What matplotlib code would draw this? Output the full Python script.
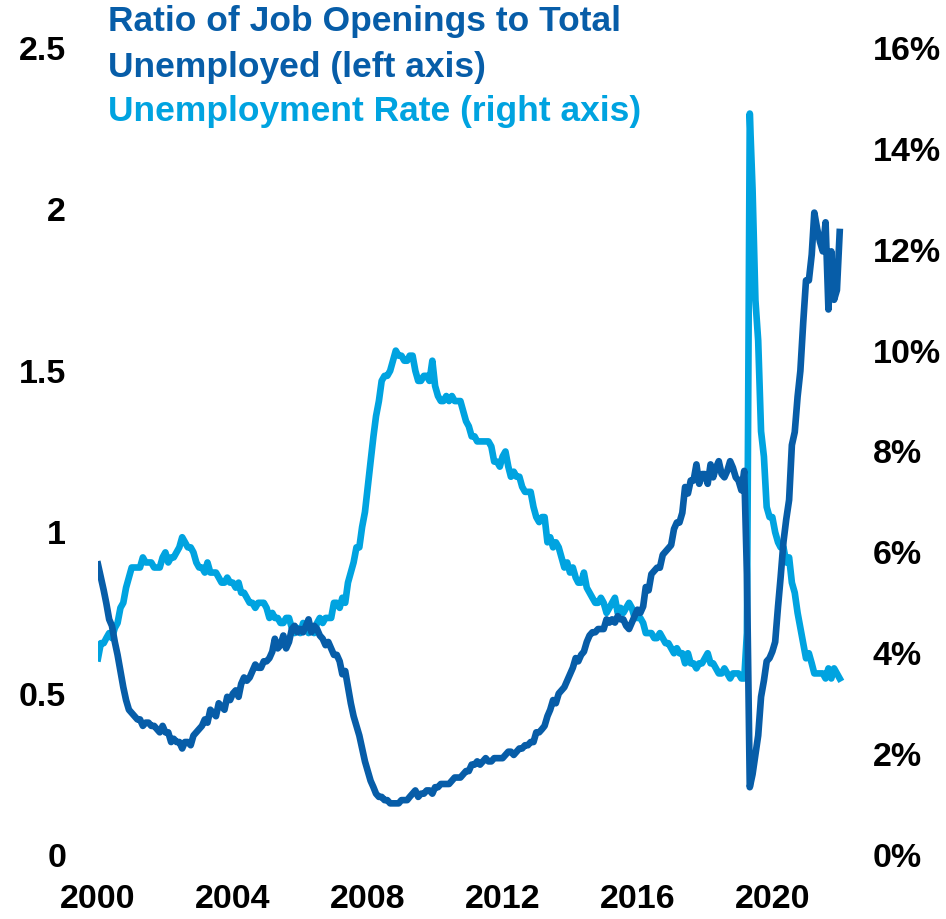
import matplotlib
matplotlib.use("Agg")
import matplotlib.pyplot as plt
from matplotlib.ticker import FuncFormatter
import pandas as pd

# monthly, Dec 2000 .. Dec 2022
start_month = "2000-12-01"

# unemployment rate, %
unemployment_rate = [
    3.9,
    4.2, 4.2, 4.3, 4.4, 4.3, 4.5, 4.6, 4.9, 5.0, 5.3, 5.5, 5.7,
    5.7, 5.7, 5.7, 5.9, 5.8, 5.8, 5.8, 5.7, 5.7, 5.7, 5.9, 6.0,
    5.8, 5.9, 5.9, 6.0, 6.1, 6.3, 6.2, 6.1, 6.1, 6.0, 5.8, 5.7,
    5.7, 5.6, 5.8, 5.6, 5.6, 5.6, 5.5, 5.4, 5.4, 5.5, 5.4, 5.4,
    5.3, 5.4, 5.2, 5.2, 5.1, 5.0, 5.0, 4.9, 5.0, 5.0, 5.0, 4.9,
    4.7, 4.8, 4.7, 4.7, 4.6, 4.6, 4.7, 4.7, 4.5, 4.4, 4.5, 4.4,
    4.6, 4.5, 4.4, 4.5, 4.4, 4.6, 4.7, 4.6, 4.7, 4.7, 4.7, 5.0,
    5.0, 4.9, 5.1, 5.0, 5.4, 5.6, 5.8, 6.1, 6.1, 6.5, 6.8, 7.3,
    7.8, 8.3, 8.7, 9.0, 9.4, 9.5, 9.5, 9.6, 9.8, 10.0, 9.9, 9.9,
    9.8, 9.8, 9.9, 9.9, 9.6, 9.4, 9.4, 9.5, 9.5, 9.4, 9.8, 9.3,
    9.1, 9.0, 9.0, 9.1, 9.0, 9.1, 9.0, 9.0, 9.0, 8.8, 8.6, 8.5,
    8.3, 8.3, 8.2, 8.2, 8.2, 8.2, 8.2, 8.1, 7.8, 7.8, 7.7, 7.9,
    8.0, 7.7, 7.5, 7.6, 7.5, 7.5, 7.3, 7.2, 7.2, 7.2, 6.9, 6.7,
    6.6, 6.7, 6.7, 6.2, 6.3, 6.1, 6.2, 6.1, 5.9, 5.7, 5.8, 5.6,
    5.7, 5.5, 5.4, 5.4, 5.6, 5.3, 5.2, 5.1, 5.0, 5.0, 5.1, 5.0,
    4.8, 4.9, 5.0, 5.1, 4.8, 4.9, 4.8, 4.9, 5.0, 4.9, 4.7, 4.7,
    4.7, 4.6, 4.4, 4.4, 4.4, 4.3, 4.3, 4.4, 4.3, 4.2, 4.2, 4.1,
    4.0, 4.1, 4.0, 4.0, 3.8, 4.0, 3.8, 3.8, 3.7, 3.8, 3.8, 3.9,
    4.0, 3.8, 3.8, 3.7, 3.6, 3.6, 3.7, 3.6, 3.5, 3.6, 3.6, 3.6,
    3.5, 3.5, 4.4, 14.7, 13.2, 11.0, 10.2, 8.4, 7.9, 6.9, 6.7, 6.7,
    6.4, 6.2, 6.1, 6.1, 5.8, 5.9, 5.4, 5.2, 4.8, 4.5, 4.2, 3.9,
    4.0, 3.8, 3.6, 3.6, 3.6, 3.6, 3.5, 3.7, 3.5, 3.7, 3.6, 3.5,
]

# job openings / unemployed
openings_ratio = [
    0.90,
    0.86, 0.82, 0.78, 0.73, 0.71, 0.66, 0.62, 0.57, 0.52, 0.48, 0.45, 0.44,
    0.43, 0.42, 0.42, 0.40, 0.41, 0.41, 0.40, 0.40, 0.39, 0.38, 0.40, 0.38,
    0.38, 0.35, 0.36, 0.35, 0.35, 0.33, 0.35, 0.35, 0.34, 0.37, 0.38, 0.39,
    0.40, 0.42, 0.41, 0.45, 0.44, 0.43, 0.47, 0.46, 0.45, 0.49, 0.48, 0.50,
    0.51, 0.49, 0.53, 0.55, 0.54, 0.55, 0.57, 0.59, 0.58, 0.58, 0.60, 0.60,
    0.61, 0.63, 0.67, 0.64, 0.65, 0.68, 0.64, 0.66, 0.70, 0.71, 0.69, 0.70,
    0.69, 0.71, 0.73, 0.69, 0.71, 0.70, 0.68, 0.67, 0.65, 0.66, 0.64, 0.62,
    0.62, 0.60, 0.56, 0.57, 0.52, 0.47, 0.43, 0.40, 0.37, 0.33, 0.29, 0.26,
    0.23, 0.21, 0.19, 0.18, 0.18, 0.17, 0.17, 0.16, 0.16, 0.16, 0.16, 0.17,
    0.17, 0.17, 0.18, 0.19, 0.20, 0.18, 0.19, 0.19, 0.20, 0.20, 0.19, 0.21,
    0.21, 0.22, 0.22, 0.22, 0.22, 0.23, 0.24, 0.24, 0.24, 0.25, 0.26, 0.26,
    0.28, 0.28, 0.29, 0.28, 0.29, 0.30, 0.29, 0.29, 0.30, 0.30, 0.30, 0.30,
    0.31, 0.32, 0.32, 0.31, 0.32, 0.33, 0.33, 0.34, 0.34, 0.35, 0.35, 0.38,
    0.38, 0.39, 0.40, 0.43, 0.45, 0.48, 0.47, 0.50, 0.51, 0.52, 0.54, 0.56,
    0.58, 0.61, 0.60, 0.62, 0.63, 0.66, 0.68, 0.69, 0.69, 0.70, 0.70, 0.70,
    0.73, 0.72, 0.73, 0.72, 0.74, 0.73, 0.73, 0.71, 0.70, 0.72, 0.74, 0.76,
    0.75, 0.77, 0.83, 0.82, 0.87, 0.88, 0.89, 0.89, 0.93, 0.94, 0.95, 0.96,
    1.01, 1.03, 1.03, 1.06, 1.14, 1.12, 1.16, 1.16, 1.21, 1.15, 1.18, 1.18,
    1.15, 1.21, 1.17, 1.20, 1.22, 1.18, 1.17, 1.19, 1.22, 1.20, 1.17, 1.16,
    1.13, 1.19, 0.87, 0.21, 0.25, 0.31, 0.37, 0.49, 0.54, 0.60, 0.61, 0.63,
    0.66, 0.77, 0.86, 0.97, 1.04, 1.10, 1.27, 1.31, 1.42, 1.50, 1.65, 1.78,
    1.78, 1.86, 1.99, 1.94, 1.90, 1.87, 1.96, 1.69, 1.87, 1.72, 1.75, 1.93,
]

year_ticks = ["2000", "2004", "2008", "2012", "2016", "2020"]
left_ticks = [0, 0.5, 1, 1.5, 2, 2.5]
left_labels = ["0", "0.5", "1", "1.5", "2", "2.5"]
right_ticks = [0, 2, 4, 6, 8, 10, 12, 14, 16]

dark_blue = "#075DA8"
light_blue = "#00A3E0"

plt.rcParams['font.family'] = ['Liberation Sans', 'DejaVu Sans']
plt.rcParams['font.weight'] = 'bold'

dates = pd.date_range(start_month, periods=len(openings_ratio), freq="MS")

fig = plt.figure(figsize=(9.46, 9.19), dpi=100)
ax = fig.add_axes([98 / 946, 64 / 919, 750 / 946, 807 / 919])
ax2 = ax.twinx()

ax2.plot(dates, unemployment_rate, color=light_blue, lw=4.8)
ax.plot(dates, openings_ratio, color=dark_blue, lw=4.8)
# dark line drawn over light one
ax.set_zorder(ax2.get_zorder() + 1)
ax.patch.set_visible(False)

ax.set_xlim(pd.Timestamp("2000-12-01"), pd.Timestamp("2023-03-01"))
ax.set_ylim(0, 2.5)
ax2.set_ylim(0, 16)

ax.set_xticks([pd.Timestamp(y + "-12-01") for y in year_ticks])
ax.set_xticklabels(year_ticks)
ax.set_yticks(left_ticks)
ax.set_yticklabels(left_labels)
ax2.set_yticks(right_ticks)
ax2.yaxis.set_major_formatter(FuncFormatter(lambda v, p: f"{v:.0f}%"))

for a in (ax, ax2):
    for s in a.spines.values():
        s.set_visible(False)
ax.tick_params(axis='x', length=0, pad=21, labelsize=24.5)
ax.tick_params(axis='y', length=0, pad=23, labelsize=24.5)
ax2.tick_params(axis='y', length=0, pad=18, labelsize=24.5)

fig.text(108 / 946, 1 - 22 / 919, "Ratio of Job Openings to Total",
         color=dark_blue, fontsize=25.5, va='center', ha='left')
fig.text(108 / 946, 1 - 68 / 919, "Unemployed (left axis)",
         color=dark_blue, fontsize=25.5, va='center', ha='left')
fig.text(108 / 946, 1 - 111 / 919, "Unemployment Rate (right axis)",
         color=light_blue, fontsize=25.5, va='center', ha='left')

fig.savefig("out.png", dpi=100)
